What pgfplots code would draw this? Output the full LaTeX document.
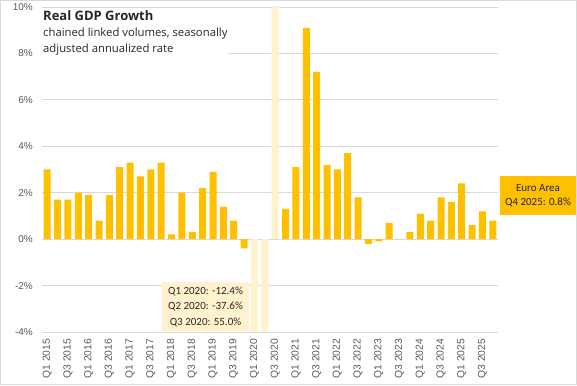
\documentclass[border=0pt]{standalone}
\usepackage{pgfplots}
\pgfplotsset{compat=1.18}
\usepackage{fontspec}
\setmainfont{Carlito}
\newfontfamily\tickfont{Liberation Sans}
\newfontfamily\titlefont{Open Sans}
\definecolor{gold}{HTML}{FFC000}
\definecolor{pale}{HTML}{FFF2CC}
\definecolor{gridgray}{HTML}{D9D9D9}
\definecolor{ticktxt}{HTML}{595959}
\definecolor{darktxt}{HTML}{262626}
\begin{document}
\begin{tikzpicture}
\path (0,0) rectangle (577pt,385pt);
\draw[color=gridgray, line width=1pt] (0.5pt,0.5pt) rectangle (576.5pt,384.5pt);
\begin{axis}[
  at={(42pt,53pt)}, anchor=south west,
  scale only axis, width=456pt, height=325pt,
  xmin=-0.5, xmax=43.5, ymin=-4, ymax=10,
  ybar, bar width=7pt,
  axis line style={draw=none},
  grid=none,
  ymajorgrids=true,
  major x grid style={draw=none},
  xtick style={draw=none}, ytick style={draw=none},
  major y grid style={color=gridgray, line width=0.8pt},
  ytick={-4,-2,0,2,4,6,8,10},
  yticklabels={-4\%,-2\%,0\%,2\%,4\%,6\%,8\%,10\%},
  xtick={0,2,...,42},
  xticklabels={Q1 2015,Q3 2015,Q1 2016,Q3 2016,Q1 2017,Q3 2017,Q1 2018,Q3 2018,Q1 2019,Q3 2019,Q1 2020,Q3 2020,Q1 2021,Q3 2021,Q1 2022,Q3 2022,Q1 2023,Q3 2023,Q1 2024,Q3 2024,Q1 2025,Q3 2025},
  xticklabel style={rotate=90, anchor=east, font=\tickfont\fontsize{10.3}{12}\selectfont, text=ticktxt, inner sep=2.5pt},
  yticklabel style={font=\tickfont\fontsize{10}{12}\selectfont, text=ticktxt, inner sep=2pt, xshift=-7pt},
]
\addplot[fill=pale, draw=none, bar shift=0pt] coordinates {(20,-12.4) (21,-37.6) (22,55.0)};
\addplot[fill=gold, draw=none, bar shift=0pt] coordinates {
(0,3.0) (1,1.7) (2,1.7) (3,2.0)
(4,1.9) (5,0.8) (6,1.9) (7,3.1)
(8,3.3) (9,2.7) (10,3.0) (11,3.3)
(12,0.2) (13,2.0) (14,0.3) (15,2.2)
(16,2.9) (17,1.4) (18,0.8) (19,-0.4)
(23,1.3)
(24,3.1) (25,9.1) (26,7.2) (27,3.2)
(28,3.0) (29,3.7) (30,1.8) (31,-0.2)
(32,-0.1) (33,0.7) (34,0.0) (35,0.3)
(36,1.1) (37,0.8) (38,1.8) (39,1.6)
(40,2.4) (41,0.6) (42,1.2) (43,0.8)};
\end{axis}
\node[fill=white, anchor=north west, inner sep=1pt, font=\titlefont\fontsize{13}{15}\selectfont\bfseries, text=darktxt] at (42pt,376pt) {Real GDP Growth};
\node[fill=white, anchor=north west, inner sep=1pt, align=left, font=\titlefont\fontsize{11.3}{16}\selectfont, text=darktxt] at (42pt,358pt) {chained linked volumes, seasonally\\adjusted annualized rate};
\fill[gold] (500pt,170pt) rectangle (576pt,209pt);
\node[align=center, font=\fontsize{11}{14}\selectfont, text=darktxt] at (538pt,189.5pt) {Euro Area\\Q4 2025: 0.8\%};
\fill[pale] (162pt,54pt) rectangle (249pt,103pt);
\node[align=center, font=\fontsize{11}{15.5}\selectfont, text=darktxt] at (205.5pt,78.5pt) {Q1 2020: -12.4\%\\Q2 2020: -37.6\%\\Q3 2020: 55.0\%};
\end{tikzpicture}
\end{document}
